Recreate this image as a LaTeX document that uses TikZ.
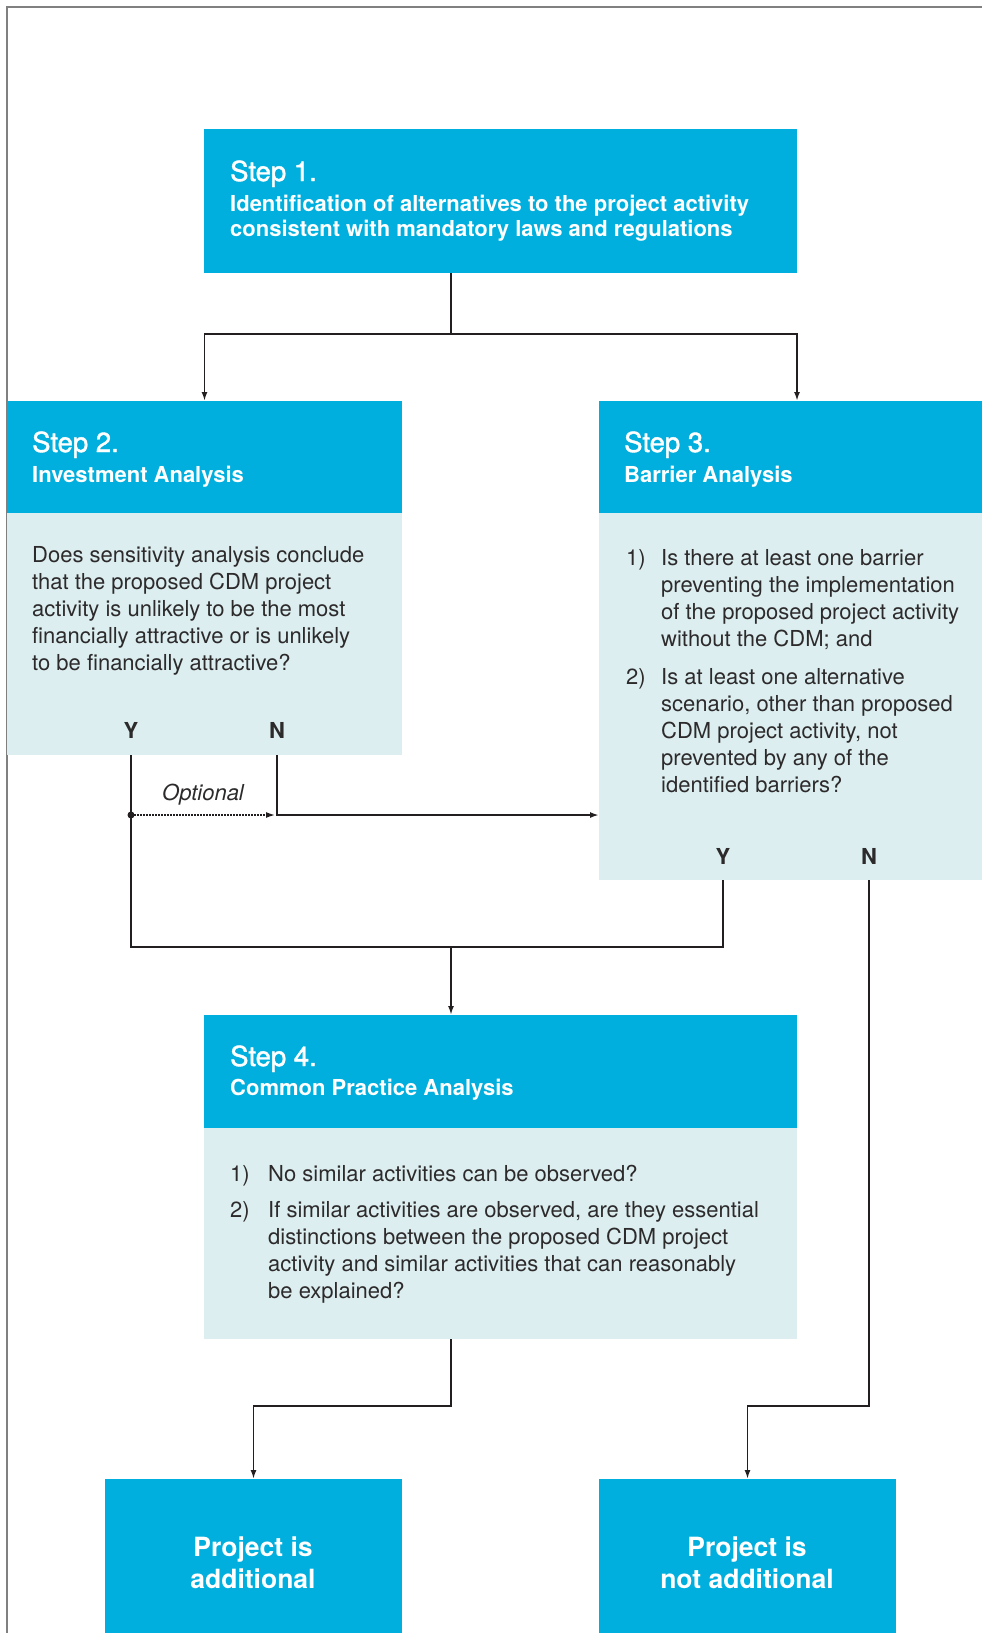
\documentclass[tikz,border=0pt]{standalone}
\usepackage{fontspec}
\setmainfont{TeX Gyre Heros}
\newfontfamily\titlefont[FakeBold=1.5]{TeX Gyre Heros}
\usetikzlibrary{arrows.meta,calc}

\definecolor{cdmblue}{RGB}{0,175,221}
\definecolor{cdmpale}{RGB}{220,238,240}
\definecolor{cdmline}{RGB}{35,31,32}
\definecolor{cdmtext}{RGB}{45,42,43}

\tikzset{
  headbox/.style={fill=cdmblue, anchor=north west, inner sep=0pt, outer sep=0pt},
  bodybox/.style={fill=cdmpale, anchor=north west, inner sep=0pt, outer sep=0pt},
  steptitle/.style={anchor=base west, inner sep=0pt, text=white,
    font=\titlefont\fontsize{27.5}{30}\selectfont},
  stepname/.style={anchor=base west, inner sep=0pt, text=white, align=left,
    font=\bfseries\fontsize{22}{25.5}\selectfont},
  question/.style={anchor=base west, inner sep=0pt, text=cdmtext, align=left,
    font=\fontsize{22}{27}\selectfont},
  answer/.style={anchor=base, inner sep=0pt, text=cdmtext,
    font=\bfseries\fontsize{22}{27}\selectfont},
  result/.style={inner sep=0pt, text=white, align=center,
    font=\bfseries\fontsize{26.5}{32}\selectfont},
  flow/.style={draw=cdmline, line width=1.8pt},
  arrowto/.style={-{Latex[length=9pt,width=6pt]}}
}

\begin{document}
\begin{tikzpicture}[x=1pt,y=-1pt]
    \useasboundingbox (0,0) rectangle (982,1633);

    % the frame round the figure
    \draw[gray, line width=1.5pt] (982,7) -- (7,7) -- (7,1633);

    % the boxes
    \node[headbox, minimum width=593pt, minimum height=144pt] (s1) at (204,129) {};
    \node[headbox, minimum width=395pt, minimum height=112pt] (s2) at (7,401) {};
    \node[bodybox, minimum width=395pt, minimum height=242pt] (s2b) at (7,513) {};
    \node[headbox, minimum width=383pt, minimum height=112pt] (s3) at (599,401) {};
    \node[bodybox, minimum width=383pt, minimum height=367pt] (s3b) at (599,513) {};
    \node[headbox, minimum width=593pt, minimum height=113pt] (s4) at (204,1015) {};
    \node[bodybox, minimum width=593pt, minimum height=211pt] (s4b) at (204,1128) {};
    \node[headbox, minimum width=297pt, minimum height=160pt] (add) at (105,1479) {};
    \node[headbox, minimum width=297pt, minimum height=160pt] (notadd) at (599,1479) {};

    % the texts (multi-line texts sit on the baseline of their last line)
    \node[steptitle] (s1t) at (230,181) {Step 1.};
    \node[stepname] (s1n) at (230,236.5) {Identification of alternatives to the project activity\\consistent with mandatory laws and regulations};
    %
    \node[steptitle] (s2t) at (32,452) {Step 2.};
    \node[stepname] (s2n0) at (32,482) {Investment Analysis};
    \node[question] (s2q) at (32,670) {Does sensitivity analysis conclude\\that the proposed CDM project\\activity is unlikely to be the most\\financially attractive or is unlikely\\to be financially attractive?};
    \node[answer] (s2y) at (131,738) {Y};
    \node[answer] (s2n) at (277,738) {N};
    %
    \node[steptitle] (s3t) at (624,452) {Step 3.};
    \node[stepname] (s3n0) at (624,482) {Barrier Analysis};
    \node[question] (s3i1) at (626,565) {1)};
    \node[question] (s3q1) at (661,646) {Is there at least one barrier\\preventing the implementation\\of the proposed project activity\\without the CDM; and};
    \node[question] (s3i2) at (626,684) {2)};
    \node[question] (s3q2) at (661,792) {Is at least one alternative\\scenario, other than proposed\\CDM project activity, not\\prevented by any of the\\identified barriers?};
    \node[answer] (s3y) at (723,864) {Y};
    \node[answer] (s3n) at (869,864) {N};
    %
    \node[steptitle] (s4t) at (230,1066) {Step 4.};
    \node[stepname] (s4n0) at (230,1095) {Common Practice Analysis};
    \node[question] (s4i1) at (230,1181) {1)};
    \node[question] (s4q1) at (268,1181) {No similar activities can be observed?};
    \node[question] (s4i2) at (230,1217) {2)};
    \node[question] (s4q2) at (268,1298) {If similar activities are observed, are they essential\\distinctions between the proposed CDM project\\activity and similar activities that can reasonably\\be explained?};
    %
    \node[result, anchor=base] (addt) at (253,1588) {Project is\\additional};
    \node[result, anchor=base] (notaddt) at (747,1588) {Project is\\not additional};

    % the points where the lines meet
    \coordinate (fork) at (451,334);
    \coordinate (join) at (451,947);
    \coordinate (optfrom) at (131,815);
    \coordinate (optto) at (275,815);

    % draw the arrows
    \draw[flow] (fork |- s1.south) -- (fork);
    \draw[flow, arrowto] (fork) -| (s2.north);
    \draw[flow, arrowto] (fork) -| (s1.south east |- s3.north);
    %
    \draw[flow] (s2y |- s2b.south) |- (join) -| (s3y |- s3b.south);
    \draw[flow, arrowto] (join) -- (join |- s4.north);
    \draw[flow, arrowto] (s2n |- s2b.south) |- (s3b.west |- optto);
    \fill[cdmline] (optfrom) circle (3.5pt);
    \draw[flow, line width=1.4pt, dash pattern=on 1.5pt off 1.5pt, arrowto] (optfrom) -- (optto);
    \node[anchor=base, inner sep=0pt, text=cdmtext, font=\itshape\fontsize{22}{27}\selectfont] (opt) at (203,800) {Optional};
    %
    \draw[flow, arrowto] (s3n |- s3b.south) -- ++(0,526) -| (notadd.north);
    \draw[flow, arrowto] (s4b.south -| join) -- ++(0,67) -| (add.north);
\end{tikzpicture}
\end{document}
